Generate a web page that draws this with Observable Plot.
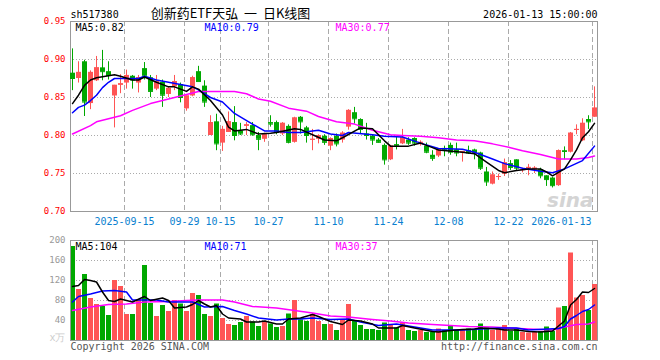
<!DOCTYPE html>
<html><head><meta charset="utf-8">
<script src="https://cdn.jsdelivr.net/npm/d3@7"></script>
<script src="https://cdn.jsdelivr.net/npm/@observablehq/plot@0.6"></script>
<style>
html,body{margin:0;padding:0;background:#fff}
#wrap{position:relative;width:660px;height:360px;overflow:hidden}
#toppane,#botpane{position:absolute;left:0}
#toppane{top:0}#botpane{top:230px}
</style></head><body>
<div id="wrap"><div id="toppane"></div><div id="botpane"></div></div>
<script>
const dates = ["2025-09-02","2025-09-03","2025-09-04","2025-09-05","2025-09-08","2025-09-09","2025-09-10","2025-09-11","2025-09-12","2025-09-15","2025-09-16","2025-09-17","2025-09-18","2025-09-19","2025-09-22","2025-09-23","2025-09-24","2025-09-25","2025-09-26","2025-09-29","2025-09-30",
"2025-10-09","2025-10-10","2025-10-13","2025-10-14","2025-10-15","2025-10-16","2025-10-17","2025-10-20","2025-10-21","2025-10-22","2025-10-23","2025-10-24","2025-10-27","2025-10-28","2025-10-29","2025-10-30","2025-10-31",
"2025-11-03","2025-11-04","2025-11-05","2025-11-06","2025-11-07","2025-11-10","2025-11-11","2025-11-12","2025-11-13","2025-11-14","2025-11-17","2025-11-18","2025-11-19","2025-11-20","2025-11-21","2025-11-24","2025-11-25","2025-11-26","2025-11-27","2025-11-28",
"2025-12-01","2025-12-02","2025-12-03","2025-12-04","2025-12-05","2025-12-08","2025-12-09","2025-12-10","2025-12-11","2025-12-12","2025-12-15","2025-12-16","2025-12-17","2025-12-18","2025-12-19","2025-12-22","2025-12-23","2025-12-24","2025-12-25","2025-12-26","2025-12-29","2025-12-30","2025-12-31",
"2026-01-05","2026-01-06","2026-01-07","2026-01-08","2026-01-09","2026-01-12","2026-01-13"];

const openP  = [0.882,0.875,0.897,0.842,0.872,0.889,0.884,0.852,0.866,0.869,0.878,0.869,0.888,0.876,0.861,0.870,0.854,0.864,0.867,0.835,0.852,0.884,0.865,0.800,0.818,0.790,0.804,0.817,0.806,0.812,0.813,0.800,0.795,0.817,0.817,0.802,0.812,0.791,0.824,0.810,0.794,0.795,0.799,0.786,0.799,0.794,0.811,0.830,0.821,0.802,0.799,0.794,0.787,0.768,0.788,0.789,0.794,0.796,0.788,0.786,0.774,0.773,0.783,0.787,0.781,0.777,0.780,0.781,0.777,0.752,0.736,0.745,0.749,0.763,0.768,0.754,0.756,0.755,0.755,0.747,0.744,0.734,0.780,0.778,0.807,0.793,0.821,0.824];
const highP  = [0.914,0.897,0.899,0.885,0.904,0.912,0.897,0.866,0.880,0.886,0.879,0.879,0.896,0.879,0.879,0.873,0.864,0.879,0.869,0.852,0.878,0.891,0.872,0.826,0.828,0.812,0.831,0.838,0.816,0.817,0.817,0.804,0.803,0.826,0.819,0.817,0.814,0.824,0.825,0.812,0.808,0.801,0.801,0.797,0.802,0.805,0.834,0.837,0.822,0.816,0.801,0.796,0.789,0.787,0.799,0.808,0.797,0.797,0.793,0.790,0.780,0.781,0.786,0.790,0.790,0.779,0.786,0.782,0.778,0.758,0.752,0.749,0.769,0.767,0.768,0.757,0.762,0.759,0.757,0.747,0.745,0.781,0.785,0.804,0.814,0.822,0.826,0.864];
const lowP   = [0.859,0.869,0.825,0.834,0.871,0.872,0.873,0.810,0.855,0.861,0.861,0.856,0.873,0.850,0.859,0.837,0.850,0.859,0.843,0.832,0.851,0.871,0.837,0.800,0.780,0.779,0.804,0.793,0.800,0.800,0.799,0.780,0.791,0.811,0.801,0.800,0.789,0.790,0.802,0.790,0.780,0.789,0.787,0.780,0.785,0.790,0.807,0.815,0.802,0.794,0.787,0.790,0.761,0.767,0.781,0.788,0.787,0.786,0.786,0.776,0.766,0.771,0.772,0.774,0.772,0.765,0.775,0.768,0.754,0.733,0.735,0.741,0.746,0.754,0.754,0.751,0.747,0.750,0.743,0.733,0.731,0.733,0.768,0.777,0.801,0.792,0.808,0.824];
const closeP = [0.875,0.883,0.844,0.883,0.889,0.884,0.879,0.866,0.868,0.879,0.873,0.876,0.878,0.858,0.871,0.853,0.862,0.871,0.850,0.852,0.876,0.871,0.844,0.817,0.789,0.808,0.818,0.800,0.802,0.814,0.801,0.795,0.801,0.815,0.804,0.816,0.791,0.823,0.818,0.800,0.795,0.800,0.791,0.796,0.789,0.803,0.833,0.822,0.808,0.800,0.794,0.791,0.768,0.786,0.786,0.797,0.790,0.790,0.791,0.778,0.770,0.781,0.781,0.778,0.777,0.779,0.777,0.777,0.757,0.739,0.748,0.746,0.764,0.758,0.757,0.755,0.758,0.757,0.747,0.742,0.734,0.780,0.779,0.803,0.808,0.816,0.818,0.836];
// volume, 万
const volume = [188,102,132,84,72,68,50,120,108,52,52,81,150,74,48,70,58,80,73,58,94,90,52,48,73,44,32,30,36,48,37,28,36,33,26,28,53,80,41,38,52,38,32,32,20,40,72,40,30,22,22,20,35,30,25,35,20,18,20,16,16,23,20,30,20,20,23,20,33,25,20,25,30,18,22,16,15,16,18,27,18,65,68,175,85,90,60,112];

// moving averages: [candle index, value]
const ma5Price  = [[0,0.842],[1,0.853],[2,0.866],[3,0.873],[4,0.876],[7,0.880],[8,0.878],[10,0.873],[11,0.873],[12,0.877],[14,0.870],[16,0.864],[17,0.864],[19,0.858],[20,0.864],[21,0.861],[23,0.846],[25,0.827],[26,0.811],[27,0.806],[29,0.808],[31,0.802],[33,0.803],[34,0.804],[37,0.809],[38,0.808],[40,0.801],[42,0.794],[44,0.793],[45,0.797],[48,0.810],[50,0.809],[52,0.793],[53,0.786],[56,0.786],[58,0.790],[60,0.784],[61,0.781],[65,0.778],[67,0.776],[69,0.765],[71,0.754],[72,0.751],[74,0.754],[76,0.756],[78,0.756],[79,0.752],[80,0.747],[82,0.756],[83,0.768],[84,0.781],[85,0.797],[86,0.805],[87,0.816]];
const ma10Price = [[0,0.830],[1,0.837],[2,0.840],[3,0.846],[4,0.853],[5,0.863],[6,0.870],[7,0.875],[10,0.875],[11,0.875],[12,0.878],[14,0.873],[16,0.870],[18,0.867],[20,0.864],[21,0.860],[23,0.850],[25,0.844],[27,0.829],[30,0.815],[32,0.806],[34,0.806],[36,0.804],[38,0.804],[41,0.807],[43,0.802],[45,0.800],[46,0.804],[50,0.801],[52,0.799],[55,0.798],[58,0.790],[61,0.783],[65,0.782],[67,0.778],[70,0.769],[72,0.763],[75,0.757],[78,0.753],[80,0.751],[82,0.756],[85,0.767],[87,0.786]];
const ma30Price = [[0,0.802],[3,0.813],[4,0.818],[8,0.826],[10,0.833],[13,0.842],[16,0.848],[19,0.854],[21,0.858],[24,0.858],[27,0.858],[29,0.855],[31,0.848],[33,0.845],[36,0.836],[39,0.832],[41,0.825],[44,0.818],[47,0.815],[50,0.807],[53,0.801],[55,0.800],[58,0.799],[61,0.797],[64,0.794],[67,0.793],[70,0.789],[73,0.784],[75,0.780],[78,0.775],[81,0.769],[84,0.769],[86,0.771],[87,0.773]];
const ma5Vol  = [[0,108],[1,110],[2,122],[3,120],[4,117],[5,97],[6,80],[7,78],[8,83],[9,80],[10,77],[12,88],[13,80],[15,85],[16,80],[17,65],[19,67],[20,72],[21,80],[22,73],[23,67],[24,70],[25,53],[26,45],[28,43],[29,37],[31,37],[32,39],[34,33],[35,33],[36,43],[38,45],[40,52],[41,48],[42,43],[43,38],[45,32],[46,41],[48,39],[50,33],[51,25],[54,25],[55,30],[57,25],[60,18],[61,17],[63,20],[65,22],[67,23],[68,25],[71,23],[72,21],[74,21],[76,18],[78,17],[80,19],[81,29],[82,39],[83,71],[84,82],[85,97],[86,96],[87,104]];
const ma10Vol = [[0,77],[1,88],[3,93],[5,99],[7,100],[9,97],[10,81],[12,81],[14,81],[16,77],[18,77],[20,77],[22,67],[25,68],[27,60],[29,53],[31,45],[34,41],[36,43],[38,43],[40,45],[43,42],[46,43],[48,37],[51,30],[54,33],[57,27],[60,21],[65,21],[71,25],[74,25],[76,21],[81,24],[82,28],[83,43],[84,50],[85,58],[86,62],[87,71]];
const ma30Vol = [[0,60],[3,67],[6,72],[9,73],[12,77],[16,78],[19,80],[21,81],[25,81],[27,77],[30,68],[34,65],[37,60],[40,55],[43,49],[46,47],[50,42],[53,39],[56,35],[60,32],[63,30],[66,28],[70,27],[73,25],[76,23],[80,21],[82,27],[84,32],[86,33],[87,37]];

const tickDates  = ["2025-09-15","2025-09-29","2025-10-15","2025-10-27","2025-11-10","2025-11-24","2025-12-08","2025-12-22","2026-01-13"];
const tickLabels = ["2025-09-15","09-29","10-15","10-27","11-10","11-24","12-08","12-22","2026-01-13"];
const priceTicks = [0.70,0.75,0.80,0.85,0.90,0.95];
const volTicks = [40,80,120,160,200];

const RED = "#ff5555", GREEN = "#00a800", GRID = "#aaaaaa";
const MONO = "DejaVu Sans Mono, monospace";

const candles = dates.map((d, i) => ({i, date: d, o: openP[i], h: highP[i], l: lowP[i], c: closeP[i], v: volume[i], col: closeP[i] >= openP[i] ? RED : GREEN}));
const tickRows = tickDates.map((d, k) => ({i: dates.indexOf(d), label: tickLabels[k]}));
const lastVal = a => a[a.length - 1][1];

const xScale = {type: "linear", domain: [-1/3, dates.length - 0.5], axis: null};
const common = {width: 660, marginLeft: 70, marginRight: 63, style: {fontFamily: MONO, fontSize: "10px", background: "#fff", overflow: "visible"}};

const pricePlot = Plot.plot({
  ...common, height: 230, marginTop: 21, marginBottom: 19,
  x: xScale,
  y: {domain: [0.70, 0.95], axis: null},
  marks: [
    Plot.ruleY(priceTicks.slice(1, -1), {stroke: GRID, strokeDasharray: "1,2"}),
    Plot.ruleX(tickRows, {x: "i", dx: -2, stroke: GRID, strokeDasharray: "5,3"}),
    Plot.frame({stroke: "#999"}),
    Plot.axisY({ticks: priceTicks, tickFormat: d3.format(".2f"), tickSize: 0, tickPadding: 5, fill: "#f00", fontSize: 9, label: null}),
    Plot.text(tickRows.slice(0, -1), {x: "i", text: "label", frameAnchor: "bottom", lineAnchor: "top", dx: -2, dy: 6, fill: "#0a7fd0", fontSize: 10}),
    Plot.text(tickRows.slice(-1), {x: "i", text: "label", frameAnchor: "bottom", lineAnchor: "top", textAnchor: "end", dx: -3, dy: 6, fill: "#0a7fd0", fontSize: 10}),
    Plot.text(["sina"], {frameAnchor: "bottom-right", textAnchor: "end", lineAnchor: "bottom", dx: -4, dy: -5, fill: "#d4d4d4", fontSize: 20, fontWeight: "bold", fontStyle: "italic", fontFamily: "DejaVu Sans"}),
    Plot.ruleX(candles, {x: "i", y1: "l", y2: "h", stroke: "col"}),
    Plot.rect(candles, {x1: d => d.i - 1/3, x2: d => d.i + 0.5, y1: "o", y2: "c", fill: "col"}),
    Plot.ruleY(candles, {y: "c", x1: d => d.i - 1/3, x2: d => d.i + 0.5, stroke: "col"}),
    Plot.line(ma30Price, {x: d => d[0], y: d => d[1], stroke: "#ff00ff"}),
    Plot.line(ma10Price, {x: d => d[0], y: d => d[1], stroke: "#0000ff"}),
    Plot.line(ma5Price, {x: d => d[0], y: d => d[1], stroke: "#000"}),
    Plot.text([`MA5:${d3.format(".2f")(lastVal(ma5Price))}`], {frameAnchor: "top-left", dx: 5, dy: 2, fill: "#000"}),
    Plot.text([`MA10:${d3.format(".2f")(lastVal(ma10Price))}`], {frameAnchor: "top-left", dx: 134, dy: 2, fill: "#0000ff"}),
    Plot.text([`MA30:${d3.format(".2f")(lastVal(ma30Price))}`], {frameAnchor: "top-left", dx: 265, dy: 2, fill: "#ff00ff"}),
    Plot.text(["sh517380"], {frameAnchor: "top-left", lineAnchor: "bottom", dy: -4, fill: "#000"}),
    Plot.text(["创新药ETF天弘  一  日K线图"], {frameAnchor: "top-left", textAnchor: "middle", lineAnchor: "bottom", dx: 160, dy: -4, fill: "#000", fontSize: 13, fontFamily: "Noto Sans CJK SC"}),
    Plot.text(["2026-01-13 15:00:00"], {frameAnchor: "top-right", textAnchor: "end", lineAnchor: "bottom", dy: -4, fill: "#000"})
  ]
});

const volPlot = Plot.plot({
  ...common, height: 130, marginTop: 10, marginBottom: 20,
  x: xScale,
  y: {domain: [0, 200], axis: null},
  marks: [
    Plot.ruleY(volTicks.slice(0, -1), {stroke: GRID, strokeDasharray: "1,2"}),
    Plot.ruleX(tickRows, {x: "i", dx: -2, stroke: GRID, strokeDasharray: "5,3"}),
    Plot.axisY({ticks: volTicks, tickSize: 0, tickPadding: 5, fill: "#999", fontSize: 9, label: null}),
    Plot.text(["x万"], {frameAnchor: "bottom-left", textAnchor: "end", dx: -5, fill: "#ccc", fontSize: 10}),
    Plot.rect(candles, {x1: d => d.i - 1/3, x2: d => d.i + 0.5, y1: 0, y2: "v", fill: "col"}),
    Plot.frame({stroke: "#999"}),
    Plot.line(ma30Vol, {x: d => d[0], y: d => d[1], stroke: "#ff00ff"}),
    Plot.line(ma10Vol, {x: d => d[0], y: d => d[1], stroke: "#0000ff"}),
    Plot.line(ma5Vol, {x: d => d[0], y: d => d[1], stroke: "#000"}),
    Plot.text([`MA5:${lastVal(ma5Vol)}`], {frameAnchor: "top-left", dx: 5, dy: 2, fill: "#000"}),
    Plot.text([`MA10:${lastVal(ma10Vol)}`], {frameAnchor: "top-left", dx: 134, dy: 2, fill: "#0000ff"}),
    Plot.text([`MA30:${lastVal(ma30Vol)}`], {frameAnchor: "top-left", dx: 265, dy: 2, fill: "#ff00ff"}),
    Plot.text(["Copyright 2026 SINA.COM"], {frameAnchor: "bottom-left", lineAnchor: "top", dy: 2, fill: "#555"}),
    Plot.text(["http://finance.sina.com.cn"], {frameAnchor: "bottom-right", textAnchor: "end", lineAnchor: "top", dy: 2, fill: "#555"})
  ]
});

document.getElementById("toppane").appendChild(pricePlot);
document.getElementById("botpane").appendChild(volPlot);
</script>
</body></html>
